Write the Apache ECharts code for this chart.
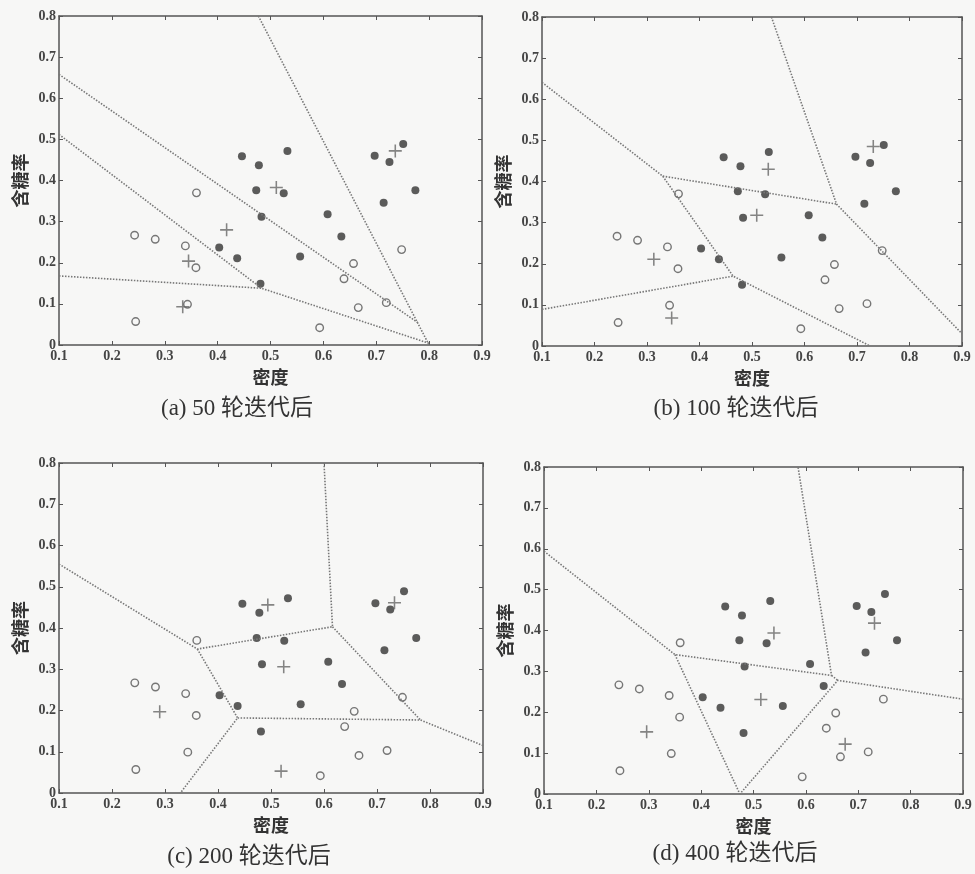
<!DOCTYPE html>
<html lang="zh" style="height: 100%">
<head>
    <meta charset="UTF-8">
    <title>LVQ 迭代结果</title>
    <script src="https://cdn.jsdelivr.net/npm/echarts@6/dist/echarts.min.js"></script>
</head>
<body style="height: 100%; margin: 0">
<div id="main" style="width: 975px; height: 874px"></div>
<script>
    // 西瓜数据集 4.0
    var density = [0.697, 0.774, 0.634, 0.608, 0.556, 0.403, 0.481, 0.437, 0.666, 0.243,
                   0.245, 0.343, 0.639, 0.657, 0.360, 0.593, 0.719, 0.359, 0.339, 0.282,
                   0.748, 0.714, 0.483, 0.478, 0.525, 0.751, 0.532, 0.473, 0.725, 0.446];
    var sugar = [0.460, 0.376, 0.264, 0.318, 0.215, 0.237, 0.149, 0.211, 0.091, 0.267,
                 0.057, 0.099, 0.161, 0.198, 0.370, 0.042, 0.103, 0.188, 0.241, 0.257,
                 0.232, 0.346, 0.312, 0.437, 0.369, 0.489, 0.472, 0.376, 0.445, 0.459];
    // 1 = 好瓜(实心), 0 = 坏瓜(空心)
    var isGood = [1, 1, 1, 1, 1, 1, 1, 1, 0, 0, 0, 0, 0, 0, 0, 0, 0, 0, 0, 0, 0,
                  1, 1, 1, 1, 1, 1, 1, 1, 1];

    var captions = ['(a) 50 轮迭代后', '(b) 100 轮迭代后', '(c) 200 轮迭代后', '(d) 400 轮迭代后'];
    var xTicks = ['0.1', '0.2', '0.3', '0.4', '0.5', '0.6', '0.7', '0.8', '0.9'];

    // 原型向量
    var protoA = [[0.511, 0.383], [0.736, 0.472], [0.417, 0.280], [0.345, 0.204], [0.334, 0.093]];
    var protoB = [[0.531, 0.430], [0.731, 0.485], [0.509, 0.318], [0.313, 0.211], [0.347, 0.068]];
    var protoC = [[0.494, 0.456], [0.733, 0.461], [0.524, 0.306], [0.290, 0.197], [0.519, 0.053]];
    var protoD = [[0.539, 0.394], [0.731, 0.418], [0.514, 0.231], [0.296, 0.152], [0.675, 0.122]];

    // 簇边界 (Voronoi)
    var boundA = [
        [[0.477, 0.8], [0.8, 0.0]],
        [[0.1, 0.658], [0.778, 0.055]],
        [[0.1, 0.512], [0.483, 0.138], [0.8, 0.004]],
        [[0.1, 0.168], [0.483, 0.138]]
    ];
    var boundB = [
        [[0.1, 0.641], [0.330, 0.413], [0.464, 0.170], [0.725, 0.0]],
        [[0.330, 0.413], [0.661, 0.345]],
        [[0.537, 0.8], [0.661, 0.345], [0.9, 0.030]],
        [[0.1, 0.089], [0.464, 0.170]]
    ];
    var boundC = [
        [[0.1, 0.555], [0.361, 0.349], [0.616, 0.403], [0.600, 0.8]],
        [[0.361, 0.349], [0.437, 0.182], [0.329, 0.0]],
        [[0.437, 0.182], [0.782, 0.177], [0.9, 0.115]],
        [[0.616, 0.403], [0.782, 0.177]]
    ];
    var boundD = [
        [[0.1, 0.594], [0.350, 0.341], [0.649, 0.290], [0.585, 0.8]],
        [[0.350, 0.341], [0.474, 0.0], [0.661, 0.278], [0.9, 0.232]],
        [[0.649, 0.290], [0.661, 0.278]]
    ];

    var protos = [protoA, protoB, protoC, protoD];
    var bounds = [boundA, boundB, boundC, boundD];

    var grids = [
        {left: 59, top: 16, width: 423, height: 329},
        {left: 542, top: 17, width: 420, height: 329},
        {left: 59, top: 463, width: 424, height: 330},
        {left: 544, top: 467, width: 419, height: 327}
    ];
    var capPos = [[237, 397], [736, 397], [249, 845], [735, 842]];

    var serif = "'Liberation Serif', 'DejaVu Serif', serif";
    var cjk = "'Liberation Serif', 'Noto Sans CJK SC', sans-serif";
    var axisColor = '#555';
    var plusPath = 'path://M4.4,0h1.2v4.4h4.4v1.2h-4.4v4.4h-1.2v-4.4h-4.4v-1.2h4.4z';

    var goodPts = [], badPts = [];
    for (var i = 0; i < density.length; i++) {
        if (isGood[i]) goodPts.push([density[i], sugar[i]]);
        else badPts.push([density[i], sugar[i]]);
    }

    var xAxes = [], yAxes = [], series = [], graphics = [];
    grids.forEach(function (g, k) {
        xAxes.push({
            gridIndex: k, type: 'value', min: 0.1, max: 0.9, interval: 0.1,
            name: '密度', nameLocation: 'middle', nameGap: 25,
            nameTextStyle: {fontFamily: cjk, fontSize: 18, fontWeight: 'bold', color: '#333'},
            axisLine: {onZero: false, lineStyle: {color: axisColor, width: 1.5}},
            axisTick: {inside: true, length: 4, lineStyle: {color: axisColor}},
            axisLabel: {fontFamily: serif, fontWeight: 'bold', fontSize: 14, color: '#444', margin: 4,
                formatter: function (v) { return xTicks[Math.round((v - 0.1) * 10)] || ''; }},
            splitLine: {show: false}
        });
        xAxes.push({
            gridIndex: k, type: 'value', position: 'top', min: 0.1, max: 0.9, interval: 0.1,
            axisLine: {onZero: false, lineStyle: {color: axisColor, width: 1.5}},
            axisTick: {inside: true, length: 4, lineStyle: {color: axisColor}},
            axisLabel: {show: false}, splitLine: {show: false}
        });
        yAxes.push({
            gridIndex: k, type: 'value', min: 0, max: 0.8, interval: 0.1,
            name: '含糖率', nameLocation: 'middle', nameGap: 28,
            nameTextStyle: {fontFamily: cjk, fontSize: 18, fontWeight: 'bold', color: '#333'},
            axisLine: {onZero: false, lineStyle: {color: axisColor, width: 1.5}},
            axisTick: {inside: true, length: 4, lineStyle: {color: axisColor}},
            axisLabel: {fontFamily: serif, fontWeight: 'bold', fontSize: 14, color: '#444', margin: 3},
            splitLine: {show: false}
        });
        yAxes.push({
            gridIndex: k, type: 'value', position: 'right', min: 0, max: 0.8, interval: 0.1,
            axisLine: {onZero: false, lineStyle: {color: axisColor, width: 1.5}},
            axisTick: {inside: true, length: 4, lineStyle: {color: axisColor}},
            axisLabel: {show: false}, splitLine: {show: false}
        });

        bounds[k].forEach(function (poly) {
            series.push({
                type: 'line', xAxisIndex: 2 * k, yAxisIndex: 2 * k, data: poly,
                showSymbol: false, silent: true,
                lineStyle: {color: '#777', width: 1.6, type: [1.5, 1.5]}
            });
        });
        series.push({
            type: 'scatter', xAxisIndex: 2 * k, yAxisIndex: 2 * k, data: goodPts,
            symbol: 'circle', symbolSize: 8, itemStyle: {color: '#333'}
        });
        series.push({
            type: 'scatter', xAxisIndex: 2 * k, yAxisIndex: 2 * k, data: badPts,
            symbol: 'circle', symbolSize: 7.5,
            itemStyle: {color: 'rgba(0,0,0,0)', borderColor: '#555', borderWidth: 1.4}
        });
        series.push({
            type: 'scatter', xAxisIndex: 2 * k, yAxisIndex: 2 * k, data: protos[k],
            symbol: plusPath, symbolSize: 13, itemStyle: {color: '#666'}
        });

        graphics.push({
            type: 'text', x: capPos[k][0], y: capPos[k][1],
            style: {text: captions[k], fontFamily: cjk, fontSize: 23, fill: '#333', textAlign: 'center'}
        });
    });

    var myChart = echarts.init(document.getElementById('main'));
    myChart.setOption({
        backgroundColor: '#f7f7f6',
        animation: false,
        grid: grids,
        xAxis: xAxes,
        yAxis: yAxes,
        series: series,
        graphic: graphics
    });
</script>
</body>
</html>
